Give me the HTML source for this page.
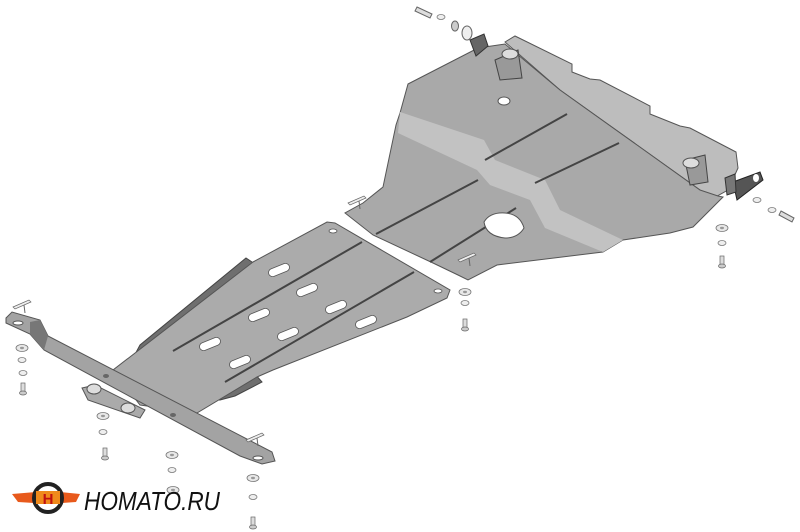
<!DOCTYPE html>
<html><head><meta charset="utf-8"><style>
html,body{margin:0;padding:0;background:#fff;}
svg{display:block;}
</style></head><body>
<svg width="800" height="532" viewBox="0 0 800 532" xmlns="http://www.w3.org/2000/svg">
<defs>
<g id="washer"><ellipse cx="0" cy="0" rx="6" ry="3.5" fill="#e8e8e8" stroke="#777" stroke-width="0.8"/><ellipse cx="0" cy="0" rx="2" ry="1.2" fill="#999"/></g>
<g id="swasher"><ellipse cx="0" cy="0" rx="4" ry="2.5" fill="#eee" stroke="#777" stroke-width="0.8"/></g>
<g id="bolt"><rect x="-2" y="-9" width="4" height="9" fill="#ddd" stroke="#666" stroke-width="0.7"/><ellipse cx="0" cy="1" rx="3.5" ry="2" fill="#ccc" stroke="#666" stroke-width="0.7"/></g>
<g id="clip"><polygon points="-9,3 7,-4 9,-2 -7,5" fill="#eee" stroke="#666" stroke-width="0.7"/><line x1="2" y1="1" x2="3" y2="9" stroke="#666" stroke-width="1"/></g>
</defs>

<polygon points="505,42 515,36 572,64 572,72 590,79 600,80 650,106 650,114 680,126 690,128 736,152 738,168 728,190 710,200 700,190 560,90" fill="#bdbdbd" stroke="#555" stroke-width="1"/>
<polygon points="408,84 478,48 505,44 560,90 700,190 718,196 723,197 693,227 670,233 623,240 603,252 497,265 468,280 458,275 433,263 373,235 345,213 363,203 383,187 396,125 400,113" fill="#a9a9a9" stroke="#555" stroke-width="1"/>
<polygon points="400,112 398,133 477,170 490,185 530,200 545,228 603,252 623,240 560,210 545,180 495,160 484,140" fill="#c2c2c2" stroke="none"/>
<line x1="376" y1="234" x2="478" y2="180" stroke="#444" stroke-width="2"/>
<line x1="485" y1="160" x2="567" y2="114" stroke="#444" stroke-width="2"/>
<line x1="430" y1="262" x2="516" y2="208" stroke="#444" stroke-width="2"/>
<line x1="535" y1="183" x2="619" y2="143" stroke="#444" stroke-width="2"/>
<ellipse cx="504" cy="101" rx="6" ry="4" fill="#fff" stroke="#555"/>
<path d="M484,222 Q490,212 505,213 Q520,214 524,228 Q518,238 505,238 Q486,236 484,222Z" fill="#fff" stroke="#555"/>
<polygon points="470,40 484,34 488,46 476,56" fill="#666" stroke="#333"/>
<polygon points="495,60 518,50 522,78 500,80" fill="#999" stroke="#444"/>
<ellipse cx="510" cy="54" rx="8" ry="5" fill="#ddd" stroke="#555"/>
<polygon points="685,160 705,155 708,182 690,185" fill="#999" stroke="#444"/>
<ellipse cx="691" cy="163" rx="8" ry="5" fill="#ddd" stroke="#555"/>
<polygon points="733,182 760,172 763,180 737,200" fill="#555" stroke="#222"/>
<ellipse cx="756" cy="178" rx="3" ry="4" fill="#fff"/>
<polygon points="725,178 735,174 736,192 727,195" fill="#777" stroke="#333"/>

<polygon points="252,262 246,258 140,345 132,360 148,368 255,268" fill="#6f6f6f" stroke="#444"/>
<polygon points="228,380 255,374 262,382 235,396 220,400" fill="#6f6f6f" stroke="#444"/>
<polygon points="253,262 327,222 335,223 450,290 447,298 407,317 273,370 257,377 197,413 140,405 113,370" fill="#ababab" stroke="#555" stroke-width="1"/>
<line x1="173" y1="351" x2="362" y2="242" stroke="#444" stroke-width="2"/>
<line x1="225" y1="382" x2="414" y2="272" stroke="#444" stroke-width="2"/>
<g fill="#fff" stroke="#555" stroke-width="0.8">
<rect x="268" y="266" width="22" height="8" rx="4" transform="rotate(-22 279 270)"/>
<rect x="296" y="286" width="22" height="8" rx="4" transform="rotate(-22 307 290)"/>
<rect x="325" y="303" width="22" height="8" rx="4" transform="rotate(-22 336 307)"/>
<rect x="355" y="318" width="22" height="8" rx="4" transform="rotate(-22 366 322)"/>
<rect x="248" y="311" width="22" height="8" rx="4" transform="rotate(-22 259 315)"/>
<rect x="277" y="330" width="22" height="8" rx="4" transform="rotate(-22 288 334)"/>
<rect x="199" y="340" width="22" height="8" rx="4" transform="rotate(-22 210 344)"/>
<rect x="229" y="358" width="22" height="8" rx="4" transform="rotate(-22 240 362)"/>
<ellipse cx="333" cy="231" rx="4" ry="2"/><ellipse cx="438" cy="291" rx="4" ry="2"/>
</g>

<polygon points="6,318 12,312 40,320 48,336 272,452 275,461 262,464 240,456 44,350 30,334 6,323" fill="#a3a3a3" stroke="#555" stroke-width="1"/>
<polygon points="30,322 40,320 48,336 44,350 30,334" fill="#777"/>
<polygon points="82,388 95,385 145,410 140,418 88,400" fill="#aaa" stroke="#555"/>
<ellipse cx="94" cy="389" rx="7" ry="5" fill="#ddd" stroke="#555"/>
<ellipse cx="128" cy="408" rx="7" ry="5" fill="#ddd" stroke="#555"/>
<ellipse cx="106" cy="376" rx="3" ry="2" fill="#666"/>
<ellipse cx="173" cy="415" rx="3" ry="2" fill="#666"/>
<ellipse cx="18" cy="323" rx="5" ry="2" fill="#fff" stroke="#555"/>
<ellipse cx="258" cy="458" rx="5" ry="2" fill="#fff" stroke="#555"/>

<use href="#clip" x="22" y="304"/><use href="#clip" x="255" y="437"/>
<use href="#clip" x="357" y="200"/><use href="#clip" x="467" y="257"/>
<use href="#washer" x="22" y="348"/><use href="#swasher" x="22" y="360"/><use href="#swasher" x="23" y="373"/><use href="#bolt" x="23" y="392"/>
<use href="#washer" x="103" y="416"/><use href="#swasher" x="103" y="432"/><use href="#bolt" x="105" y="457"/>
<use href="#washer" x="172" y="455"/><use href="#swasher" x="172" y="470"/><use href="#washer" x="253" y="478"/><use href="#swasher" x="253" y="497"/><use href="#bolt" x="253" y="526"/>
<use href="#washer" x="173" y="490"/>
<use href="#washer" x="465" y="292"/><use href="#swasher" x="465" y="303"/><use href="#bolt" x="465" y="328"/>
<use href="#washer" x="722" y="228"/><use href="#swasher" x="722" y="243"/><use href="#bolt" x="722" y="265"/>
<use href="#swasher" x="757" y="200"/><use href="#swasher" x="772" y="210"/>
<polygon points="781,211 794,218 792,222 779,215" fill="#ddd" stroke="#666"/>
<polygon points="417,7 432,14 430,18 415,11" fill="#ddd" stroke="#666"/>
<use href="#swasher" x="441" y="17"/><ellipse cx="455" cy="26" rx="3.5" ry="5" fill="#ccc" stroke="#666"/><ellipse cx="467" cy="33" rx="5" ry="7" fill="#eee" stroke="#666"/>

<g>
<path d="M12,494 L36,492 L34,503 L18,502Z" fill="#e85a1c"/>
<path d="M80,494 L60,492 L62,503 L76,502Z" fill="#e85a1c"/>
<circle cx="48" cy="498" r="14" fill="none" stroke="#222" stroke-width="4"/>
<rect x="36" y="491" width="24" height="13" fill="#f08a1c"/>
<text x="48" y="504" font-family="Liberation Sans, sans-serif" font-size="15" font-weight="bold" fill="#c01010" text-anchor="middle">H</text>
<text x="84" y="510" font-family="Liberation Sans, sans-serif" font-size="26" font-style="italic" fill="#111" textLength="136" lengthAdjust="spacingAndGlyphs">HOMATO.RU</text>
</g>
</svg>
</body></html>
